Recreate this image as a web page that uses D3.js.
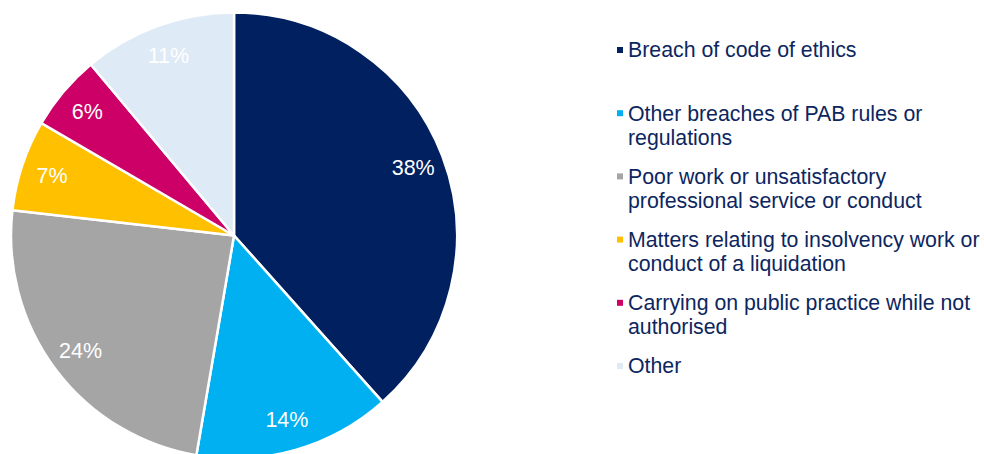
<!DOCTYPE html>
<html>
<head>
<meta charset="utf-8">
<script src="https://cdn.jsdelivr.net/npm/d3@7"></script>
<style>
  body { margin: 0; background: #fff; }
  svg { display: block; font-family: Arial, "Liberation Sans", sans-serif; }
</style>
</head>
<body>
<div id="chart"></div>
<script>
// Complaint categories and shares (%)
const categories = [
  'Breach of code of ethics',
  'Other breaches of PAB rules or regulations',
  'Poor work or unsatisfactory professional service or conduct',
  'Matters relating to insolvency work or conduct of a liquidation',
  'Carrying on public practice while not authorised',
  'Other'
];
const shares = [38.4, 14.3, 24.1, 6.6, 5.5, 11.1];
const shareLabels = ['38%', '14%', '24%', '7%', '6%', '11%'];
// legend text, wrapped as in the original
const legendLines = [
  ['Breach of code of ethics'],
  ['Other breaches of PAB rules or', 'regulations'],
  ['Poor work or unsatisfactory', 'professional service or conduct'],
  ['Matters relating to insolvency work or', 'conduct of a liquidation'],
  ['Carrying on public practice while not', 'authorised'],
  ['Other']
];
const colors = ['#002060', '#00b0f0', '#a5a5a5', '#ffc000', '#cc0066', '#deeaf6'];

const width = 984, height = 454;
const cx = 234, cy = 235.5, radius = 223;

const svg = d3.select('#chart').append('svg')
    .attr('width', width)
    .attr('height', height);

const data = categories.map((c, i) => ({name: c, value: shares[i], label: shareLabels[i], color: colors[i]}));

const pie = d3.pie().sort(null).value(d => d.value);
const arc = d3.arc().innerRadius(0).outerRadius(radius);
const labelArc = d3.arc().innerRadius(radius * 0.86).outerRadius(radius * 0.86);

const chart = svg.append('g')
    .attr('transform', `translate(${cx},${cy})`);

const arcs = pie(data);

chart.selectAll('.slice')
    .data(arcs)
  .join('path')
    .attr('class', 'slice')
    .attr('d', arc)
    .attr('fill', d => d.data.color)
    .attr('stroke', '#fff')
    .attr('stroke-width', 2.5)
    .attr('stroke-linejoin', 'round');

chart.selectAll('.slice-label')
    .data(arcs)
  .join('text')
    .attr('class', 'slice-label')
    .attr('transform', d => `translate(${labelArc.centroid(d)})`)
    .attr('text-anchor', 'middle')
    .attr('dy', '0.35em')
    .attr('fill', '#fff')
    .style('font-size', '21.5px')
    .text(d => d.data.label);

// Legend
const legendX = 617, legendTop = 50, legendStep = 63.2, lineH = 24;

const legend = svg.append('g').attr('class', 'legend');

const item = legend.selectAll('.legend-item')
    .data(data)
  .join('g')
    .attr('class', 'legend-item')
    .attr('transform', (d, i) => `translate(${legendX},${legendTop + i * legendStep})`);

item.append('rect')
    .attr('x', 0)
    .attr('y', -3)
    .attr('width', 6)
    .attr('height', 6)
    .attr('fill', d => d.color);

item.append('text')
    .attr('x', 11)
    .attr('fill', '#0c2660')
    .style('font-size', '21.3px')
  .selectAll('tspan')
    .data((d, i) => legendLines[i])
  .join('tspan')
    .attr('x', 11)
    .attr('y', (d, j) => j * lineH)
    .attr('dy', '0.35em')
    .text(d => d);
</script>
</body>
</html>
